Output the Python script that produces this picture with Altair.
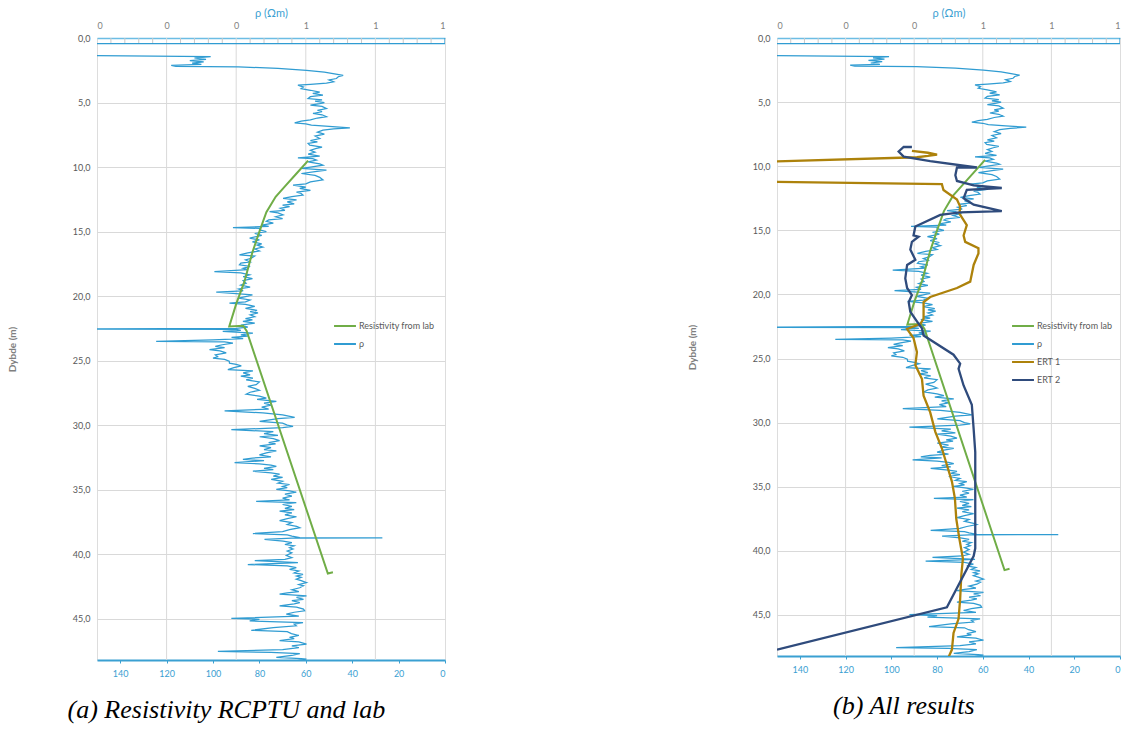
import altair as alt
import pandas as pd

# ---------------- data ----------------
rho_depth = [0.0, 0.44, 0.44, 1.34, 1.45, 1.55, 1.65, 1.75, 1.85, 1.95, 2.05, 2.12, 2.2, 2.24, 2.35, 2.5, 2.65, 2.8, 2.9, 3.0,
             3.14, 3.25, 3.4, 3.5, 3.6, 3.66, 3.8, 3.92, 4.05, 4.2, 4.3, 4.43, 4.55, 4.69, 4.8, 4.9, 5.0, 5.08, 5.2, 5.3,
             5.47, 5.6, 5.7, 5.85, 5.95, 6.1, 6.2, 6.35, 6.45, 6.57, 6.65, 6.75, 6.85, 6.96, 7.05, 7.14, 7.3, 7.45, 7.6, 7.79,
             7.95, 8.05, 8.17, 8.3, 8.45, 8.56, 8.7, 8.85, 9.0, 9.15, 9.28, 9.35, 9.46, 9.6, 9.75, 9.85, 10.0, 10.1, 10.23, 10.35,
             10.5, 10.65, 10.8, 11.0, 11.15, 11.3, 11.4, 11.55, 11.65, 11.8, 11.95, 12.05, 12.17, 12.3, 12.43, 12.55, 12.7, 12.85, 12.95, 13.07,
             13.2, 13.35, 13.46, 13.55, 13.7, 13.85, 14.0, 14.1, 14.2, 14.35, 14.5, 14.6, 14.7, 14.75, 14.87, 15.0, 15.15, 15.3, 15.5, 15.65,
             15.8, 15.95, 16.05, 16.2, 16.35, 16.5, 16.65, 16.8, 16.9, 17.07, 17.2, 17.35, 17.45, 17.58, 17.7, 17.85, 17.95, 18.1, 18.2, 18.35,
             18.5, 18.65, 18.8, 19.0, 19.15, 19.3, 19.45, 19.6, 19.7, 19.8, 19.9, 20.0, 20.15, 20.3, 20.45, 20.55, 20.65, 20.8, 20.95, 21.1,
             21.2, 21.3, 21.45, 21.6, 21.75, 21.85, 21.96, 22.1, 22.25, 22.4, 22.5, 22.56, 22.58, 22.65, 22.74, 22.87, 23.0, 23.1, 23.2, 23.3,
             23.4, 23.5, 23.55, 23.64, 23.77, 23.9, 24.0, 24.15, 24.25, 24.4, 24.55, 24.7, 24.8, 24.9, 25.05, 25.2, 25.3, 25.4, 25.55, 25.7,
             25.8, 25.95, 26.1, 26.2, 26.35, 26.5, 26.65, 26.86, 27.0, 27.15, 27.3, 27.45, 27.6, 27.75, 27.9, 28.0, 28.15, 28.3, 28.45, 28.6,
             28.75, 28.9, 29.05, 29.2, 29.4, 29.5, 29.7, 29.85, 30.0, 30.1, 30.2, 30.35, 30.5, 30.65, 30.8, 30.9, 31.05, 31.2, 31.35, 31.45,
             31.6, 31.75, 31.9, 32.0, 32.15, 32.3, 32.45, 32.55, 32.66, 32.75, 32.9, 33.0, 33.1, 33.2, 33.35, 33.45, 33.57, 33.7, 33.8, 33.95,
             34.05, 34.2, 34.35, 34.5, 34.6, 34.75, 34.85, 34.97, 35.1, 35.2, 35.35, 35.5, 35.65, 35.8, 35.9, 36.0, 36.15, 36.3, 36.45, 36.55,
             36.66, 36.8, 36.95, 37.1, 37.25, 37.4, 37.55, 37.7, 37.85, 37.95, 38.1, 38.25, 38.4, 38.5, 38.6, 38.72, 38.73, 38.75, 38.85, 38.98,
             39.1, 39.25, 39.35, 39.5, 39.6, 39.75, 39.9, 40.1, 40.27, 40.4, 40.5, 40.6, 40.66, 40.8, 40.9, 41.04, 41.17, 41.3, 41.45, 41.56,
             41.7, 41.8, 41.94, 42.05, 42.2, 42.35, 42.45, 42.6, 42.75, 42.9, 43.0, 43.1, 43.23, 43.35, 43.5, 43.6, 43.75, 43.85, 44.0, 44.1,
             44.25, 44.39, 44.5, 44.65, 44.8, 44.98, 45.05, 45.17, 45.3, 45.42, 45.55, 45.7, 45.9, 46.0, 46.15, 46.3, 46.45, 46.55, 46.7, 46.8,
             46.97, 47.1, 47.25, 47.4, 47.54, 47.6, 47.7, 47.85, 48.0, 48.1, 48.13, 48.26]
rho_value = [0, 0, 165, 165, 101, 108, 103, 110, 104, 109, 105, 118, 116, 89, 72, 59.7, 52, 47, 43.9, 46,
             46.8, 50, 48, 51.1, 58, 63.4, 61, 62, 58, 54, 57, 52.6, 58, 59, 53, 56, 52, 54, 58, 53,
             51.1, 55, 53, 56.9, 53, 51.1, 55, 58, 62, 64.8, 60, 57.6, 50, 41, 48, 52.6, 55, 52, 56, 54,
             58, 55, 59, 58.3, 53, 55.4, 58, 56, 59, 54, 63.4, 57, 55.4, 59, 54, 52.6, 58, 61.9, 51.1, 56,
             61.9, 56, 54, 52.6, 58, 60, 65.5, 60, 62.6, 58, 64, 62, 61.2, 66, 69.8, 64, 68, 65, 70, 67,
             71, 69, 75.6, 72, 69.8, 73, 70, 76, 77, 74, 79, 76, 91.4, 80, 79.9, 77, 82, 79, 84.2, 80,
             83, 79, 81, 78.5, 82, 80, 85, 88.6, 82, 83.5, 86, 84, 88, 88.6, 84, 87, 85, 99.4, 88, 84.2,
             87, 83, 87, 85.7, 88, 84, 89, 87, 98.6, 90, 83, 85, 89, 84, 86, 92.9, 86, 82, 86, 81,
             84, 80.6, 84, 82, 86, 83, 87.1, 82, 88, 85, 90, 165, 90, 88, 95.8, 82.8, 88, 85, 92, 87,
             100, 124.5, 95, 91.4, 96, 99, 95, 101.5, 97, 94.3, 99, 98, 100, 95, 93, 92.9, 90, 87.8, 91, 93.6,
             82.8, 87, 84, 88, 82.8, 85.7, 80, 81.4, 85, 82, 80, 84, 85.7, 80, 77, 81, 72.7, 78, 75, 79,
             76, 95, 78.5, 70, 64.8, 72, 79.9, 70, 68, 65.5, 70, 92.1, 74, 78, 72, 79.9, 74, 71.3, 76, 73,
             79.9, 75, 78, 72.7, 77, 80, 75, 83, 87.1, 78, 90.7, 80, 75, 72.7, 78, 74, 82.8, 75, 71.3, 74,
             70, 74.9, 70, 72, 67, 70, 68, 72.7, 67, 64.1, 69, 66, 70, 67, 81.4, 64.1, 70, 66, 69, 65,
             71.3, 66, 69, 64, 68, 71.3, 66, 68, 64, 62.6, 67, 70, 82.8, 68, 66, 62.6, 27, 66, 77.8, 69.8,
             66, 69, 65, 67, 65.5, 68, 66, 68.4, 66, 69, 82, 70, 63.4, 85, 68, 64.1, 67, 63, 65, 61.2,
             64, 62, 64.1, 62, 59.7, 63, 61, 62.6, 66, 63, 68, 71.3, 59.7, 64, 61, 66, 62.6, 65, 71.3, 64,
             61, 60.5, 65, 68.4, 63, 92.1, 80, 84.2, 61.2, 65, 64.1, 74, 83.5, 68, 66.2, 63, 67, 65, 71.3, 63,
             59.7, 66, 63, 70, 97.9, 75, 62.6, 66, 72.7, 62, 59.7, 64]

lab_depth = [9.5, 10.5, 11.5, 12.3, 13.5, 15.0, 16.6, 18.9, 20.6, 22.35, 22.3, 22.7, 41.5, 41.4]
lab_value = [59, 64, 69, 73, 77, 80, 83, 86.5, 90, 93, 87, 85.5, 50.5, 48.3]

ert1_depth = [8.8, 8.95, 9.1, 9.2, 9.3, 9.75, 11.15, 11.4, 11.85, 12.6, 13.15, 13.7, 14.6, 15.4, 15.9, 16.4, 16.8, 17.7, 19.0, 19.5,
              20.2, 20.6, 21.9, 22.3, 22.7, 23.4, 24.5, 25.5, 26.6, 27.9, 29.2, 30.7, 32.0, 33.3, 34.6, 35.9, 37.5, 39.1, 40.6, 41.9,
              43.75, 45.3, 46.4, 47.7, 48.3]
ert1_value = [91, 84, 80, 84, 88.8, 175, 175, 77.9, 77.2, 71.3, 69.9, 70.2, 67, 68.4, 67.7, 61.9, 61.9, 64, 65.5, 71.3,
              83, 85.9, 85.9, 87.3, 93.1, 90.3, 88.8, 89.5, 86.6, 85.9, 83, 80.8, 77.9, 75.7, 73.5, 72.2, 71.6, 70.2, 68.7, 69.4,
              69.9, 70.6, 72.8, 73.5, 75]

ert2_depth = [8.5, 8.5, 8.85, 9.25, 9.6, 10.1, 10.1, 10.7, 11.15, 11.5, 11.7, 11.85, 12.5, 13.0, 13.5, 13.6, 13.8, 14.7, 15.4, 15.5,
              15.9, 16.5, 17.3, 17.7, 18.75, 19.5, 20.05, 20.6, 21.35, 22.1, 22.65, 23.2, 24.7, 25.4, 25.8, 27.1, 28.6, 30.5, 32.3, 35.9,
              39.8, 40.4, 44.4, 47.7]
ert2_value = [91, 94.6, 96.8, 94.6, 83, 62.6, 71.3, 72, 71.3, 64, 51.7, 67, 68.4, 64, 51.7, 69.9, 78.6, 89.5, 90.3, 88.1,
              91, 91.7, 89.5, 93.1, 93.9, 93.1, 91, 92.4, 91.7, 88.8, 86.6, 85.9, 72.8, 69.9, 70.6, 68.4, 64.8, 64, 63.3, 63.3,
              63.3, 64, 75.7, 150]

series_names = ["Resistivity from lab", "ρ", "ERT 1", "ERT 2"]
series_colors = ["#70AD47", "#309CD2", "#AD820B", "#2F4B7C"]
series_widths = [2.0, 1.25, 2.3, 2.3]

bottom_ticks = [0, 20, 40, 60, 80, 100, 120, 140]
depth_ticks = [0, 5, 10, 15, 20, 25, 30, 35, 40, 45]
grid_values = [0.2, 0.4, 0.6, 0.8]
top_labels = [0, 0.2, 0.4, 0.6, 0.8, 1.0]
top_minor = [0.04, 0.08, 0.12, 0.16, 0.24, 0.28, 0.32, 0.36, 0.44, 0.48, 0.52, 0.56,
             0.64, 0.68, 0.72, 0.76, 0.84, 0.88, 0.92, 0.96]

FONT = "Lato"
BLUE = "#3AA0D2"
GREY = "#595959"

series_data = {
    "ρ": (rho_depth, rho_value),
    "Resistivity from lab": (lab_depth, lab_value),
    "ERT 1": (ert1_depth, ert1_value),
    "ERT 2": (ert2_depth, ert2_value),
}


def series_frame(name):
    depths, values = series_data[name]
    return pd.DataFrame({"depth": depths, "value": values, "series": name,
                         "idx": list(range(len(depths)))})


def panel(names, draw_order, caption, w, h, legend_dx):
    cols = [series_colors[series_names.index(n)] for n in names]

    top_grid = alt.Chart(pd.DataFrame({"t": grid_values})).mark_rule(
        color="#d9d9d9", strokeWidth=1).encode(
        x=alt.X("t:Q", scale=alt.Scale(domain=[0, 1], nice=False, zero=False),
                axis=alt.Axis(orient="top", values=top_labels, format=".0f", title="ρ (Ωm)",
                              titleColor=BLUE, titleFont=FONT, titleFontSize=11, titleFontWeight="normal",
                              titlePadding=3, labelColor="#7f7f7f", labelFont=FONT, labelFontSize=9,
                              labelPadding=8, ticks=False, domainColor="#6cbde4", domainWidth=1.5,
                              grid=False)))
    top_ticks = alt.Chart(pd.DataFrame({"t": top_minor})).mark_rule(
        color="#c8c8c8", strokeWidth=1).encode(
        x="t:Q", y=alt.value(0), y2=alt.value(5))
    top = alt.layer(top_grid, top_ticks)

    x_enc = alt.X("value:Q", scale=alt.Scale(domain=[0, 150], reverse=True, nice=False, zero=False),
                  axis=alt.Axis(orient="bottom", values=bottom_ticks, title=None, grid=False,
                                labelColor=BLUE, labelFont=FONT, labelFontSize=9, labelPadding=6,
                                domainColor=BLUE, domainWidth=2, tickColor=BLUE, tickSize=3))
    y_enc = alt.Y("depth:Q", scale=alt.Scale(domain=[0, 48.2], reverse=True, nice=False, zero=False),
                  axis=alt.Axis(values=depth_ticks, title="Dybde (m)",
                                labelExpr="replace(format(datum.value, '.1f'), '.', ',')",
                                grid=True, gridColor="#d9d9d9", ticks=False, domain=False,
                                labelColor=GREY, labelFont=FONT, labelFontSize=9, labelPadding=7,
                                titleColor="#7f7f7f", titleFont=FONT, titleFontSize=10,
                                titleFontWeight="bold", titlePadding=55))
    c_enc = alt.Color("series:N", scale=alt.Scale(domain=names, range=cols),
                      legend=alt.Legend(title=None, orient="none", legendX=w - legend_dx, legendY=276,
                                        symbolType="stroke", symbolSize=480, symbolStrokeWidth=2,
                                        labelFont=FONT, labelFontSize=9, labelColor=GREY,
                                        rowPadding=1, labelOffset=2))

    mains = []
    for n in draw_order:
        mains.append(alt.Chart(series_frame(n)).mark_line(
            clip=True, strokeWidth=series_widths[series_names.index(n)]).encode(
            x=x_enc, y=y_enc, color=c_enc, order=alt.Order("idx:Q")))
    main = alt.layer(*mains)

    return alt.layer(top, main).resolve_scale(x="independent").properties(
        width=w, height=h,
        title=alt.TitleParams(caption, orient="bottom", anchor="middle", frame="bounds",
                              font="Liberation Serif", fontStyle="italic", fontWeight="normal",
                              fontSize=26, color="#000000", offset=19))


left = panel(series_names[:2], ["ρ", "Resistivity from lab"],
             "(a) Resistivity RCPTU and lab", 348, 622, 112)

right = panel(series_names, ["ρ", "Resistivity from lab", "ERT 1", "ERT 2"],
              "(b) All results", 343, 618, 109)

chart = alt.hconcat(left, right, spacing=240).resolve_scale(color="independent").properties(
    padding={"left": 6, "top": 6, "right": 0, "bottom": 0}
).configure_view(stroke="#d9d9d9").configure(background="white")

chart.save("out.html", embed_options={"renderer": "svg", "actions": False})
